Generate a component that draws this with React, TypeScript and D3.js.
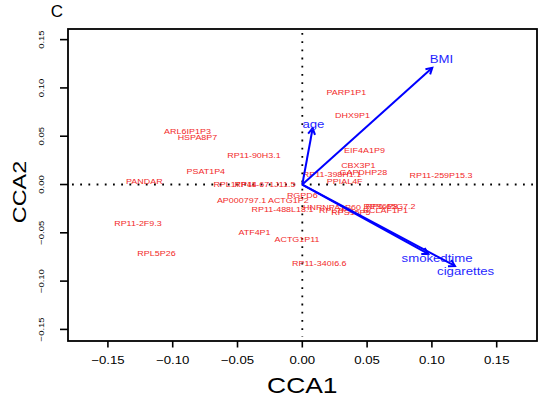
import React from "react";
import * as d3 from "d3";

const W = 549;
const H = 405;

// species (gene) scores: name, CCA1, CCA2
const geneNames = [
  "ARL6IP1P3", "HSPA8P7", "RP11-90H3.1", "PSAT1P4", "PANDAR", "RPL17P44",
  "RP11-671J11.5", "RP11-398H1.1", "CBX3P1", "GAPDHP28", "PPIAL4F", "EIF4A1P9",
  "RP11-259P15.3", "PARP1P1", "DHX9P1", "RGPD6", "AP000797.1", "ACTG1P2",
  "RP11-488L18.1", "HNRNPA1P60", "RPL7P9", "RPS15P5", "RP6-65G7.2", "RPS6P8",
  "BCLAF1P1", "ATF4P1", "ACTG1P11", "RP11-340I6.6", "RP11-2F9.3", "RPL5P26",
];
const geneCCA1 = [
  -0.0886, -0.0809, -0.0373, -0.0745, -0.1219, -0.0519,
  -0.0288, 0.0229, 0.0432, 0.0471, 0.0327, 0.048,
  0.107, 0.034, 0.0387, 0.0, -0.0469, -0.0108,
  -0.0153, 0.0229, 0.0257, 0.0375, 0.0682, 0.0605,
  0.0642, -0.0369, -0.0041, 0.0131, -0.1268, -0.1125,
];
const geneCCA2 = [
  0.0549, 0.0489, 0.0302, 0.014, 0.0036, 0.0002,
  0.0008, 0.0106, 0.0202, 0.0126, 0.0036, 0.0354,
  0.0101, 0.0954, 0.0719, -0.0109, -0.0164, -0.0164,
  -0.0257, -0.0233, -0.0267, -0.0285, -0.0226, -0.0222,
  -0.0264, -0.0495, -0.0567, -0.0816, -0.0402, -0.0706,
];

// biplot arrows (environmental variables)
const envNames = ["BMI", "age", "smokedtime", "cigarettes"];
const envCCA1 = [0.1003, 0.008, 0.0972, 0.1178];
const envCCA2 = [0.1209, 0.0582, -0.0719, -0.0843];

const xTicks = [-0.15, -0.1, -0.05, 0, 0.05, 0.1, 0.15];
const yTicks = [-0.15, -0.1, -0.05, 0, 0.05, 0.1, 0.15];

const L = 68, R = 537, T = 29, B = 341;

export default function App() {
  const x = d3.scaleLinear().domain([-0.1808, 0.1811]).range([L, R]);
  const y = d3.scaleLinear().domain([-0.162, 0.161]).range([B, T]);
  const fmt = d3.format(".2f");
  const lab = (v: number) => fmt(v).replace("-", "\u2212");
  const font = "Liberation Sans, Arial, Helvetica, sans-serif";
  const red = "#f22a2a";
  const blue = "#0000ff";

  const arrowHead = (x0: number, y0: number, x1: number, y1: number) => {
    const ang = Math.atan2(y1 - y0, x1 - x0);
    const len = 7;
    const a = Math.PI / 6;
    const p1 = [x1 - len * Math.cos(ang - a), y1 - len * Math.sin(ang - a)];
    const p2 = [x1 - len * Math.cos(ang + a), y1 - len * Math.sin(ang + a)];
    return `M${p1[0]},${p1[1]}L${x1},${y1}L${p2[0]},${p2[1]}`;
  };

  return (
    <svg
      width={W}
      height={H}
      style={{ position: "absolute", left: 0, top: 0, background: "#fff" }}
      fontFamily={font}
    >
      <rect x={0} y={0} width={W} height={H} fill="#fff" />
      {/* panel letter */}
      <text x={57} y={17} fontSize={17} textAnchor="middle" fill="#000">C</text>

      {/* dotted zero lines */}
      <line x1={x(0)} x2={x(0)} y1={T + 4} y2={B - 4} stroke="#000" strokeWidth={1.8} strokeDasharray="1.8 6.4" />
      <line x1={L + 4} x2={R - 4} y1={y(0)} y2={y(0)} stroke="#000" strokeWidth={1.8} strokeDasharray="1.8 6.4" />

      {/* gene labels */}
      {geneNames.map((n, i) => (
        <text
          key={n + i}
          transform={`translate(${x(geneCCA1[i])},${y(geneCCA2[i])}) scale(1.12,1)`}
          fontSize={8}
          textAnchor="middle"
          dominantBaseline="central"
          fill={red}
        >
          {n}
        </text>
      ))}

      {/* biplot arrows */}
      {envNames.map((n, i) => {
        const x0 = x(0), y0 = y(0);
        const x1 = x(envCCA1[i]), y1 = y(envCCA2[i]);
        return (
          <g key={n}>
            <line x1={x0} y1={y0} x2={x1} y2={y1} stroke={blue} strokeWidth={2} />
            <path d={arrowHead(x0, y0, x1, y1)} fill="none" stroke={blue} strokeWidth={2} />
            <text
              transform={`translate(${x(envCCA1[i] * 1.07)},${y(envCCA2[i] * 1.07)}) scale(1.2,1)`}
              fontSize={11}
              textAnchor="middle"
              dominantBaseline="central"
              fill="#1f1fff"
            >
              {n}
            </text>
          </g>
        );
      })}

      {/* box */}
      <rect x={L} y={T} width={R - L} height={B - T} fill="none" stroke="#000" strokeWidth={1.8} />

      {/* x axis */}
      {xTicks.map((t) => (
        <g key={"x" + t}>
          <line x1={x(t)} x2={x(t)} y1={B} y2={B + 6.5} stroke="#000" strokeWidth={1.6} />
          <text
            transform={`translate(${x(t)},${364}) scale(1.2,1)`}
            fontSize={11}
            textAnchor="middle"
            fill="#000"
          >
            {lab(t)}
          </text>
        </g>
      ))}
      <text transform={`translate(${x(0)},${393}) scale(1.2,1)`} fontSize={22} textAnchor="middle" fill="#000">
        CCA1
      </text>

      {/* y axis */}
      {yTicks.map((t) => (
        <g key={"y" + t}>
          <line x1={L} x2={L - 8} y1={y(t)} y2={y(t)} stroke="#000" strokeWidth={1.6} />
          <text
            transform={`translate(${43.5},${y(t)}) rotate(-90) scale(1,0.85)`}
            fontSize={9.5}
            textAnchor="middle"
            fill="#000"
          >
            {lab(t)}
          </text>
        </g>
      ))}
      <text transform={`translate(${26},${192}) rotate(-90) scale(1.3,1)`} fontSize={18} textAnchor="middle" fill="#000">
        CCA2
      </text>
    </svg>
  );
}
